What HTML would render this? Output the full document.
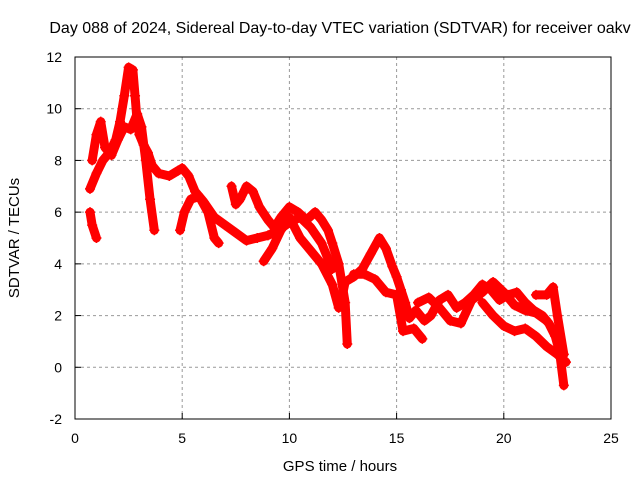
<!DOCTYPE html>
<html><head><meta charset="utf-8"><style>
body{margin:0;background:#fff}
svg{display:block;font-family:"Liberation Sans",sans-serif}
</style></head><body>
<svg id="c" width="640" height="480">
<text x="340" y="33" font-size="16" text-anchor="middle">Day 088 of 2024, Sidereal Day-to-day VTEC variation (SDTVAR) for receiver oakv</text>
<text x="340" y="471" font-size="15" text-anchor="middle">GPS time / hours</text>
<text transform="translate(19,238) rotate(-90)" font-size="15" text-anchor="middle">SDTVAR / TECUs</text>
<g id="grid"></g><g id="marks"></g>
<rect x="75" y="57" width="536" height="362" fill="none" stroke="#000" stroke-width="1"/>
</svg>
<script>
const xTicks=[0,5,10,15,20,25];
const yTicks=[-2,0,2,4,6,8,10,12];
const trackA_h=[0.7,1.0,1.3,1.6,1.9,2.1,2.3,2.5,2.7,2.8,2.9,3.0,3.2,3.4,3.6,3.9,4.4,4.8,5.0,5.3,5.6,6.0,6.5,7.0,7.5,8.0,8.5,9.0,9.5,10.0,10.5,11.0,11.5,12.0];
const trackA_v=[6.9,7.5,8.0,8.3,8.8,9.5,10.5,11.6,11.5,10.5,9.5,9.0,8.6,8.3,7.8,7.5,7.4,7.6,7.7,7.4,6.8,6.4,5.8,5.5,5.2,4.9,5.0,5.1,5.3,5.6,5.8,5.4,4.8,3.8];
const trackB_h=[0.7,0.8,1.0];
const trackB_v=[6.0,5.5,5.0];
const trackC_h=[0.8,1.0,1.2,1.4,1.7,2.0,2.3,2.6,2.9,3.1,3.3,3.5,3.7];
const trackC_v=[8.0,9.0,9.5,8.5,8.2,8.8,9.3,9.2,9.8,9.3,8.0,6.5,5.3];
const trackD_h=[4.9,5.1,5.4,5.8,6.2,6.5,6.7];
const trackD_v=[5.3,6.0,6.5,6.6,6.0,5.0,4.8];
const trackE_h=[7.3,7.5,7.7,8.0,8.3,8.6,9.0,9.3,9.6,10.0,10.4,10.8,11.2,11.5,11.8,12.0,12.3,12.6,12.7];
const trackE_v=[7.0,6.3,6.5,7.0,6.8,6.2,5.7,5.4,5.8,6.2,6.0,5.7,6.0,5.7,5.3,4.8,4.0,2.5,0.9];
const trackF_h=[8.8,9.2,9.6,10.0,10.5,11.0,11.5,12.0,12.3];
const trackF_v=[4.1,4.6,5.3,5.8,5.0,4.5,4.0,3.2,2.3];
const trackG_h=[12.4,12.6,13.0,13.4,13.8,14.2,14.5,14.8,15.0,15.2,15.4,15.6,15.9,16.3,16.6,17.0,17.4,17.8,18.2,18.6,19.0,19.4,19.8,20.2,20.6,21.0,21.4,21.8,22.1,22.4,22.6,22.8];
const trackG_v=[2.5,3.3,3.5,3.8,4.4,5.0,4.6,3.9,3.5,3.0,2.5,1.9,2.2,1.8,2.0,2.6,2.8,2.3,2.5,2.8,3.2,3.0,2.6,2.8,2.9,2.5,2.2,2.0,1.7,1.2,0.6,-0.7];
const trackH_h=[13.0,13.5,14.0,14.5,15.0,15.3,15.8,16.2];
const trackH_v=[3.6,3.6,3.4,2.9,2.8,1.4,1.5,1.1];
const trackI_h=[16.0,16.5,17.0,17.5,18.0,18.5,19.0,19.5,20.0,20.5,21.0,21.5,22.0];
const trackI_v=[2.5,2.7,2.3,1.8,1.7,2.6,2.9,3.3,2.9,2.4,2.2,2.1,1.8];
const trackJ_h=[19.0,19.5,20.0,20.5,21.0,21.5,22.0,22.5,22.9];
const trackJ_v=[2.5,2.0,1.6,1.4,1.5,1.2,0.8,0.5,0.2];
const trackK_h=[21.5,22.0,22.3,22.5,22.8];
const trackK_v=[2.8,2.8,3.1,2.0,0.5];
const tracks=[[trackA_h,trackA_v],[trackB_h,trackB_v],[trackC_h,trackC_v],[trackD_h,trackD_v],[trackE_h,trackE_v],[trackF_h,trackF_v],[trackG_h,trackG_v],[trackH_h,trackH_v],[trackI_h,trackI_v],[trackJ_h,trackJ_v],[trackK_h,trackK_v]];
const NS="http://www.w3.org/2000/svg";
const X=h=>75+h*(536/25), Y=v=>57+(12-v)*(362/14);
const grid=document.getElementById('grid'), marks=document.getElementById('marks');
function mk(tag,attrs,parent){const e=document.createElementNS(NS,tag);for(const k in attrs)e.setAttribute(k,attrs[k]);parent.appendChild(e);return e;}
xTicks.forEach(t=>{const x=X(t);
 if(t>0&&t<25){const g=mk('line',{x1:x,x2:x,y1:57,y2:419,stroke:'#999','stroke-dasharray':'3,3'},grid);
 
 }
 const l=mk('line',{x1:x,x2:x,y1:419,y2:413,stroke:'#000'},grid);
 
 
 const tx=mk('text',{x:x,y:443,'font-size':14,'text-anchor':'middle'},grid);tx.textContent=t;
 
 });
yTicks.forEach(t=>{const y=Y(t);
 if(t>-2&&t<12){const g=mk('line',{x1:75,x2:611,y1:y,y2:y,stroke:'#999','stroke-dasharray':'3,3'},grid);
 
 }
 const l=mk('line',{x1:75,x2:81,y1:y,y2:y,stroke:'#000'},grid);
 
 
 const tx=mk('text',{x:62,y:y+5,'font-size':14,'text-anchor':'end'},grid);tx.textContent=t;
 
 });
tracks.forEach(([hs,vs],i)=>{
 const pts=hs.map((h,j)=>X(h)+','+Y(vs[j])).join(' ');
 const p=mk('polyline',{points:pts,fill:'none',stroke:'#f00','stroke-width':9,'stroke-linejoin':'round','stroke-linecap':'round'},marks);
 
 
 hs.forEach((h,j)=>{const x=X(h),y=Y(vs[j]);
  const m=mk('path',{d:`M${x-5},${y}H${x+5}M${x},${y-5}V${y+5}`,stroke:'#f00','stroke-width':1.5},marks);
  
  });
});
</script>
</body></html>
